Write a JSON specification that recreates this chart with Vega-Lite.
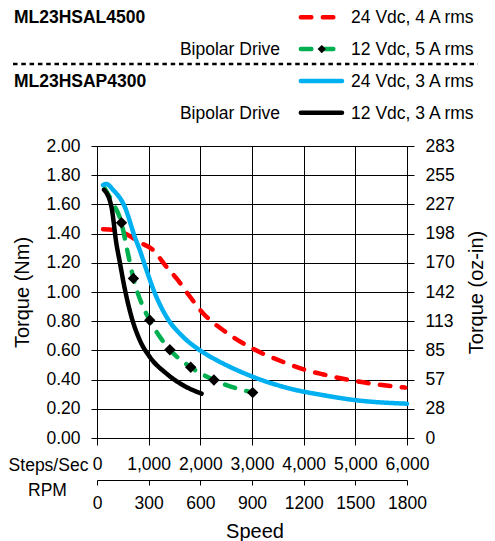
{
  "$schema": "https://vega.github.io/schema/vega-lite/v6.json",
  "width": 310,
  "height": 292,
  "autosize": {"type": "none"},
  "padding": {"left": 97, "top": 146, "right": 88, "bottom": 103},
  "background": "white",
  "config": {
    "font": "Liberation Sans",
    "view": {"stroke": null},
    "axis": {
      "domainColor": "black",
      "tickColor": "black",
      "gridColor": "black",
      "gridOpacity": 1,
      "labelColor": "black",
      "titleColor": "black",
      "labelFontSize": 17.5,
      "titleFontSize": 20,
      "titleFontWeight": "normal",
      "labelFlush": false,
      "labelOverlap": false
    }
  },
  "title": {
    "text": "Speed",
    "orient": "bottom",
    "anchor": "middle",
    "frame": "group",
    "fontSize": 20,
    "fontWeight": "normal",
    "color": "black",
    "offset": 10,
    "dx": 3
  },
  "datasets": {
    "curves": [
      {"curve": "24 Vdc, 4 A rms", "steps": 116, "torque": 1.43},
      {"curve": "24 Vdc, 4 A rms", "steps": 343, "torque": 1.424},
      {"curve": "24 Vdc, 4 A rms", "steps": 600, "torque": 1.39},
      {"curve": "24 Vdc, 4 A rms", "steps": 800, "torque": 1.345},
      {"curve": "24 Vdc, 4 A rms", "steps": 1087, "torque": 1.287},
      {"curve": "24 Vdc, 4 A rms", "steps": 1345, "torque": 1.172},
      {"curve": "24 Vdc, 4 A rms", "steps": 1540, "torque": 1.093},
      {"curve": "24 Vdc, 4 A rms", "steps": 1733, "torque": 1.0},
      {"curve": "24 Vdc, 4 A rms", "steps": 2056, "torque": 0.853},
      {"curve": "24 Vdc, 4 A rms", "steps": 2444, "torque": 0.738},
      {"curve": "24 Vdc, 4 A rms", "steps": 3026, "torque": 0.61},
      {"curve": "24 Vdc, 4 A rms", "steps": 3608, "torque": 0.52},
      {"curve": "24 Vdc, 4 A rms", "steps": 4000, "torque": 0.47},
      {"curve": "24 Vdc, 4 A rms", "steps": 4384, "torque": 0.435},
      {"curve": "24 Vdc, 4 A rms", "steps": 5000, "torque": 0.39},
      {"curve": "24 Vdc, 4 A rms", "steps": 5968, "torque": 0.345},
      {"curve": "12 Vdc, 5 A rms", "steps": 149, "torque": 1.71},
      {"curve": "12 Vdc, 5 A rms", "steps": 310, "torque": 1.607},
      {"curve": "12 Vdc, 5 A rms", "steps": 473, "torque": 1.474, "measured": true},
      {"curve": "12 Vdc, 5 A rms", "steps": 585, "torque": 1.287},
      {"curve": "12 Vdc, 5 A rms", "steps": 705, "torque": 1.093, "measured": true},
      {"curve": "12 Vdc, 5 A rms", "steps": 892, "torque": 0.898},
      {"curve": "12 Vdc, 5 A rms", "steps": 1022, "torque": 0.807, "measured": true},
      {"curve": "12 Vdc, 5 A rms", "steps": 1216, "torque": 0.693},
      {"curve": "12 Vdc, 5 A rms", "steps": 1410, "torque": 0.604, "measured": true},
      {"curve": "12 Vdc, 5 A rms", "steps": 1814, "torque": 0.485, "measured": true},
      {"curve": "12 Vdc, 5 A rms", "steps": 2263, "torque": 0.397, "measured": true},
      {"curve": "12 Vdc, 5 A rms", "steps": 3013, "torque": 0.311, "measured": true},
      {"curve": "24 Vdc, 3 A rms", "steps": 116, "torque": 1.733},
      {"curve": "24 Vdc, 3 A rms", "steps": 182, "torque": 1.74},
      {"curve": "24 Vdc, 3 A rms", "steps": 310, "torque": 1.7},
      {"curve": "24 Vdc, 3 A rms", "steps": 537, "torque": 1.584},
      {"curve": "24 Vdc, 3 A rms", "steps": 731, "torque": 1.378},
      {"curve": "24 Vdc, 3 A rms", "steps": 828, "torque": 1.287},
      {"curve": "24 Vdc, 3 A rms", "steps": 958, "torque": 1.15},
      {"curve": "24 Vdc, 3 A rms", "steps": 1110, "torque": 1.0},
      {"curve": "24 Vdc, 3 A rms", "steps": 1345, "torque": 0.83},
      {"curve": "24 Vdc, 3 A rms", "steps": 1668, "torque": 0.692},
      {"curve": "24 Vdc, 3 A rms", "steps": 1991, "torque": 0.601},
      {"curve": "24 Vdc, 3 A rms", "steps": 2315, "torque": 0.533},
      {"curve": "24 Vdc, 3 A rms", "steps": 2573, "torque": 0.487},
      {"curve": "24 Vdc, 3 A rms", "steps": 3026, "torque": 0.418},
      {"curve": "24 Vdc, 3 A rms", "steps": 3737, "torque": 0.338},
      {"curve": "24 Vdc, 3 A rms", "steps": 4384, "torque": 0.293},
      {"curve": "24 Vdc, 3 A rms", "steps": 5030, "torque": 0.258},
      {"curve": "24 Vdc, 3 A rms", "steps": 6000, "torque": 0.235},
      {"curve": "12 Vdc, 3 A rms", "steps": 136, "torque": 1.7},
      {"curve": "12 Vdc, 3 A rms", "steps": 279, "torque": 1.584},
      {"curve": "12 Vdc, 3 A rms", "steps": 376, "torque": 1.33},
      {"curve": "12 Vdc, 3 A rms", "steps": 440, "torque": 1.207},
      {"curve": "12 Vdc, 3 A rms", "steps": 530, "torque": 1.035},
      {"curve": "12 Vdc, 3 A rms", "steps": 667, "torque": 0.83},
      {"curve": "12 Vdc, 3 A rms", "steps": 828, "torque": 0.67},
      {"curve": "12 Vdc, 3 A rms", "steps": 1022, "torque": 0.555},
      {"curve": "12 Vdc, 3 A rms", "steps": 1345, "torque": 0.441},
      {"curve": "12 Vdc, 3 A rms", "steps": 1668, "torque": 0.361},
      {"curve": "12 Vdc, 3 A rms", "steps": 2024, "torque": 0.304}
    ],
    "legend": [
      {"row": 1, "curve": "24 Vdc, 4 A rms", "motor": "ML23HSAL4500"},
      {"row": 2, "curve": "12 Vdc, 5 A rms", "drive": "Bipolar Drive"},
      {"row": 3, "curve": "24 Vdc, 3 A rms", "motor": "ML23HSAP4300"},
      {"row": 4, "curve": "12 Vdc, 3 A rms", "drive": "Bipolar Drive"}
    ],
    "rpm_ticks": [
      {"rpm": 0}, {"rpm": 300}, {"rpm": 600}, {"rpm": 900},
      {"rpm": 1200}, {"rpm": 1500}, {"rpm": 1800}
    ]
  },
  "layer": [
    {
      "data": {"name": "curves"},
      "layer": [
        {
          "mark": {"type": "line", "strokeWidth": 4.5, "strokeCap": "round", "interpolate": "monotone"},
          "encoding": {
            "x": {
              "field": "steps",
              "type": "quantitative",
              "scale": {"domain": [0, 6000]},
              "axis": {
                "values": [0, 1000, 2000, 3000, 4000, 5000, 6000],
                "tickCount": 7,
                "format": ",d",
                "grid": true,
                "tickSize": 7,
                "labelPadding": 10,
                "title": "Steps/Sec",
                "titleFontSize": 17.5,
                "titleAngle": 0,
                "titleAlign": "center",
                "titleBaseline": "middle",
                "titleX": -49,
                "titleY": 27
              }
            },
            "y": {
              "field": "torque",
              "type": "quantitative",
              "scale": {"domain": [0, 2]},
              "axis": {
                "values": [0, 0.2, 0.4, 0.6, 0.8, 1, 1.2, 1.4, 1.6, 1.8, 2],
                "tickCount": 11,
                "format": ".2f",
                "grid": true,
                "tickSize": 6,
                "labelPadding": 11,
                "title": "Torque (Nm)",
                "titlePadding": 13
              }
            },
            "color": {
              "field": "curve",
              "type": "nominal",
              "scale": {
                "domain": ["24 Vdc, 4 A rms", "12 Vdc, 5 A rms", "24 Vdc, 3 A rms", "12 Vdc, 3 A rms"],
                "range": ["#FF0000", "#00B050", "#00B0F0", "#000000"]
              },
              "legend": null
            },
            "strokeDash": {
              "field": "curve",
              "type": "nominal",
              "scale": {
                "domain": ["24 Vdc, 4 A rms", "12 Vdc, 5 A rms", "24 Vdc, 3 A rms", "12 Vdc, 3 A rms"],
                "range": [[10.5, 11.5], [10.5, 11.5], [1, 0], [1, 0]]
              },
              "legend": null
            }
          }
        },
        {
          "transform": [{"filter": "datum.measured"}],
          "mark": {"type": "point", "shape": "diamond", "filled": true, "size": 130, "color": "black", "opacity": 1},
          "encoding": {
            "x": {"field": "steps", "type": "quantitative"},
            "y": {"field": "torque", "type": "quantitative"}
          }
        }
      ]
    },
    {
      "data": {"name": "curves"},
      "mark": {"type": "point", "opacity": 0},
      "encoding": {
        "y": {
          "field": "torque",
          "type": "quantitative",
          "scale": {"domain": [0, 2]},
          "axis": {
            "orient": "right",
            "values": [0, 0.2, 0.4, 0.6, 0.8, 1, 1.2, 1.4, 1.6, 1.8, 2],
            "tickCount": 11,
            "labelExpr": "format(datum.value * 141.612, '.0f')",
            "grid": false,
            "tickSize": 7,
            "labelPadding": 11,
            "title": "Torque (oz-in)",
            "titleAngle": 270,
            "titleBaseline": "top",
            "titlePadding": 12
          }
        }
      }
    },
    {
      "data": {"name": "rpm_ticks"},
      "mark": {"type": "point", "opacity": 0},
      "encoding": {
        "x": {
          "field": "rpm",
          "type": "quantitative",
          "scale": {"domain": [0, 1800]},
          "axis": {
            "orient": "bottom",
            "offset": 42,
            "values": [0, 300, 600, 900, 1200, 1500, 1800],
            "tickCount": 7,
            "format": "d",
            "grid": false,
            "tickSize": 5,
            "labelPadding": 9,
            "title": "RPM",
            "titleFontSize": 17.5,
            "titleAngle": 0,
            "titleAlign": "center",
            "titleBaseline": "middle",
            "titleX": -50,
            "titleY": 10
          }
        }
      }
    },
    {
      "data": {"name": "legend"},
      "layer": [
        {
          "data": {"values": [{"divider": "ML23HSAL4500 / ML23HSAP4300"}]},
          "mark": {"type": "rule", "color": "black", "strokeWidth": 2.5, "strokeDash": [4.5, 3.8]},
          "encoding": {
            "x": {"datum": 0, "type": "quantitative", "scale": {"domain": [0, 1], "range": [-84, 381]}, "axis": null},
            "x2": {"datum": 1},
            "y": {"datum": 2.47, "type": "quantitative", "scale": {"domain": [1, 4], "range": [-128.7, -33.3]}, "axis": null}
          }
        },
        {
          "mark": {"type": "rule", "strokeWidth": 4.5, "strokeCap": "round"},
          "encoding": {
            "x": {"datum": 0.619, "type": "quantitative", "scale": {"domain": [0, 1], "range": [-84, 381]}, "axis": null},
            "x2": {"datum": 0.7075},
            "y": {"field": "row", "type": "quantitative", "scale": {"domain": [1, 4], "range": [-128.7, -33.3]}, "axis": null},
            "color": {"field": "curve", "type": "nominal", "legend": null},
            "strokeDash": {"field": "curve", "type": "nominal", "legend": null}
          }
        },
        {
          "transform": [{"filter": "datum.curve === '12 Vdc, 5 A rms'"}],
          "mark": {"type": "point", "shape": "diamond", "filled": true, "size": 70, "color": "black", "opacity": 1},
          "encoding": {
            "x": {"datum": 0.664, "type": "quantitative"},
            "y": {"field": "row", "type": "quantitative"}
          }
        },
        {
          "mark": {"type": "text", "align": "left", "baseline": "middle", "fontSize": 17.5, "color": "black", "dy": 1},
          "encoding": {
            "x": {"datum": 0.727, "type": "quantitative"},
            "y": {"field": "row", "type": "quantitative"},
            "text": {"field": "curve"}
          }
        },
        {
          "transform": [{"filter": "datum.motor"}],
          "mark": {"type": "text", "align": "left", "baseline": "middle", "fontSize": 17.5, "fontWeight": "bold", "color": "black", "dy": 1},
          "encoding": {
            "x": {"datum": 0.002, "type": "quantitative"},
            "y": {"field": "row", "type": "quantitative"},
            "text": {"field": "motor"}
          }
        },
        {
          "transform": [{"filter": "datum.drive"}],
          "mark": {"type": "text", "align": "left", "baseline": "middle", "fontSize": 17.5, "color": "black", "dy": 1},
          "encoding": {
            "x": {"datum": 0.359, "type": "quantitative"},
            "y": {"field": "row", "type": "quantitative"},
            "text": {"field": "drive"}
          }
        }
      ]
    }
  ],
  "resolve": {"scale": {"x": "independent", "y": "independent"}}
}
